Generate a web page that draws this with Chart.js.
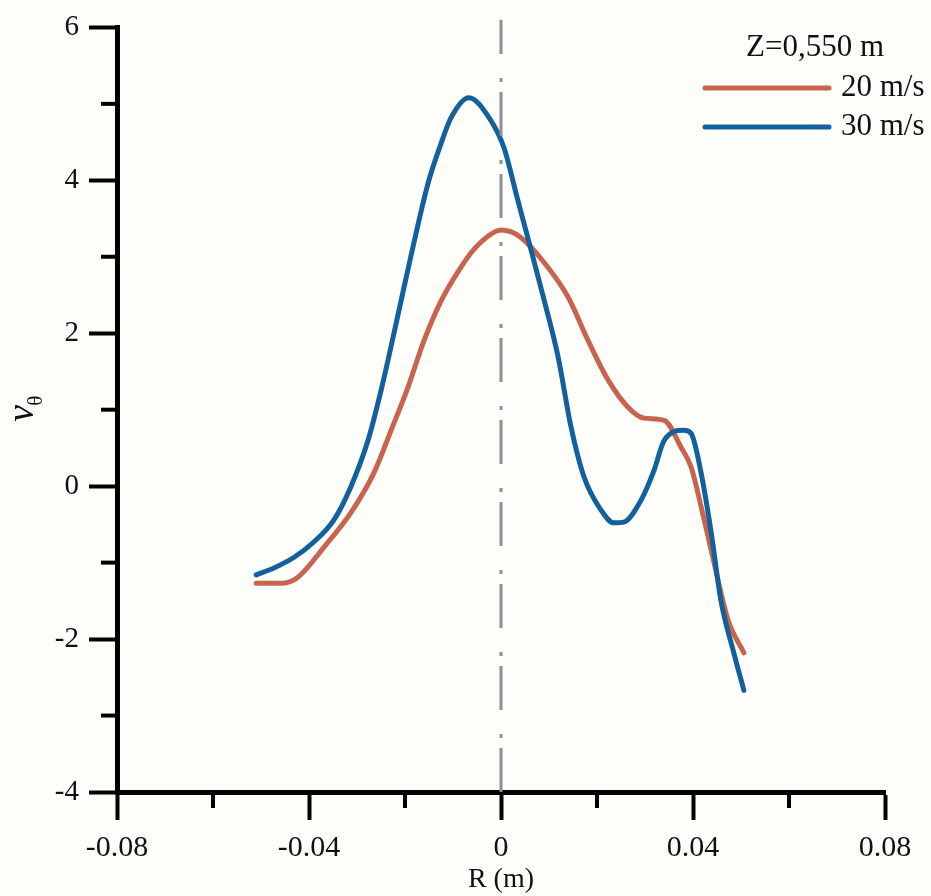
<!DOCTYPE html>
<html>
<head>
<meta charset="utf-8">
<script src="https://cdn.jsdelivr.net/npm/chart.js@4/dist/chart.umd.min.js"></script>
<style>
  html, body { margin: 0; padding: 0; background: #fdfdf9; }
  #wrap { width: 931px; height: 896px; }
</style>
</head>
<body>
<div id="wrap"><canvas id="c" width="931" height="896"></canvas></div>
<script>
// Radial position R (m) and tangential velocity v_theta, Z = 0,550 m
const r20 = [-0.0510, -0.0458, -0.0423, -0.0369, -0.0313, -0.0265, -0.0229, -0.0194, -0.0160, -0.0125,
             -0.0090, -0.0056, -0.0015, 0.0000, 0.0040, 0.0098, 0.0140, 0.0181, 0.0223, 0.0265,
             0.0298, 0.0340, 0.0375, 0.0396, 0.0417, 0.0438, 0.0473, 0.0506];
const v20 = [-1.27, -1.27, -1.19, -0.80, -0.35, 0.17, 0.73, 1.29, 1.91, 2.42,
             2.80, 3.10, 3.32, 3.35, 3.26, 2.86, 2.47, 1.91, 1.39, 1.03,
             0.89, 0.86, 0.51, 0.25, -0.27, -0.84, -1.75, -2.18];

const r30 = [-0.0510, -0.0473, -0.0431, -0.0390, -0.0348, -0.0313, -0.0277, -0.0250, -0.0223, -0.0188,
             -0.0152, -0.0125, -0.0104, -0.0067, -0.0025, 0.0006, 0.0035, 0.0063, 0.0090, 0.0119,
             0.0146, 0.0173, 0.0208, 0.0235, 0.0256, 0.0292, 0.0319, 0.0340, 0.0381, 0.0396,
             0.0417, 0.0438, 0.0458, 0.0485, 0.0506];
const v30 = [-1.16, -1.07, -0.93, -0.73, -0.44, -0.01, 0.60, 1.25, 2.00, 3.00,
             3.96, 4.48, 4.82, 5.08, 4.82, 4.43, 3.74, 3.08, 2.43, 1.69,
             0.77, 0.12, -0.31, -0.48, -0.47, -0.18, 0.21, 0.60, 0.73, 0.69,
             0.17, -0.61, -1.49, -2.18, -2.67];

// Axis line at R = 0
const axisR = [0, 0];
const axisV = [-4, 6.1];

const seriesNames = ['20 m/s', '30 m/s'];
const legendTitle = 'Z=0,550 m';
const xTitle = 'R (m)';

const RED = '#c8634e';
const BLUE = '#12609c';
const SERIF = '"Liberation Serif", "Times New Roman", serif';

const pts = (xs, ys) => xs.map((x, i) => ({ x: x, y: ys[i] }));

const isMajorX = v => Math.round(v * 100) % 4 === 0;
const isMajorY = v => Math.round(v) % 2 === 0;

const paperPlugin = {
  id: 'paper',
  beforeDraw(chart) {
    const ctx = chart.ctx;
    ctx.save();
    ctx.fillStyle = '#fdfdf9';
    ctx.fillRect(0, 0, chart.width, chart.height);
    ctx.restore();
  }
};

// short ticks at the odd steps of both axes
const minorTicks = {
  id: 'minorTicks',
  afterDraw(chart) {
    const ctx = chart.ctx;
    const xs = chart.scales.x, ys = chart.scales.y;
    const area = chart.chartArea;
    ctx.save();
    ctx.strokeStyle = '#000';
    ctx.lineWidth = 4;
    ctx.lineCap = 'butt';
    xs.ticks.forEach(t => {
      if (!isMajorX(t.value)) {
        const px = xs.getPixelForValue(t.value);
        ctx.beginPath();
        ctx.moveTo(px, area.bottom);
        ctx.lineTo(px, area.bottom + 16);
        ctx.stroke();
      }
    });
    ys.ticks.forEach(t => {
      if (!isMajorY(t.value)) {
        const py = ys.getPixelForValue(t.value);
        ctx.beginPath();
        ctx.moveTo(area.left, py);
        ctx.lineTo(area.left - 16, py);
        ctx.stroke();
      }
    });
    ctx.restore();
  }
};

// y-axis title: italic v with theta subscript, rotated
const yTitle = {
  id: 'yTitle',
  afterDraw(chart) {
    const ctx = chart.ctx;
    const mid = (chart.chartArea.top + chart.chartArea.bottom) / 2;
    ctx.save();
    ctx.translate(33, mid + 12);
    ctx.rotate(-Math.PI / 2);
    ctx.fillStyle = '#111';
    ctx.textBaseline = 'alphabetic';
    ctx.textAlign = 'left';
    ctx.font = 'italic 38px ' + SERIF;
    ctx.fillText('v', 0, 0);
    const w = ctx.measureText('v').width;
    ctx.font = '21px ' + SERIF;
    ctx.fillText('θ', w - 1, 9);
    ctx.restore();
  }
};

// legend drawn inside the plot, top right
const seriesKey = {
  id: 'seriesKey',
  afterDraw(chart) {
    const ctx = chart.ctx;
    ctx.save();
    ctx.fillStyle = '#111';
    ctx.font = '31px ' + SERIF;
    ctx.textAlign = 'center';
    ctx.textBaseline = 'middle';
    ctx.fillText(legendTitle, 815, 48);
    const rows = [
      { ds: chart.data.datasets[2], y: 88 },
      { ds: chart.data.datasets[1], y: 127 }
    ];
    rows.forEach(row => {
      ctx.strokeStyle = row.ds.borderColor;
      ctx.lineWidth = 5;
      ctx.lineCap = 'round';
      ctx.beginPath();
      ctx.moveTo(705, row.y);
      ctx.lineTo(829, row.y);
      ctx.stroke();
      ctx.textAlign = 'left';
      ctx.fillText(row.ds.label, 841, row.y);
    });
    ctx.restore();
  }
};

new Chart(document.getElementById('c'), {
  type: 'line',
  data: {
    datasets: [
      {
        label: 'R = 0',
        data: pts(axisR, axisV),
        borderColor: '#8c9095',
        borderWidth: 3,
        borderDash: [44, 10, 4, 24],
        pointRadius: 0,
        clip: false,
        tension: 0
      },
      {
        label: seriesNames[1],
        data: pts(r30, v30),
        borderColor: BLUE,
        backgroundColor: BLUE,
        borderWidth: 5,
        pointRadius: 0,
        cubicInterpolationMode: 'monotone',
        borderJoinStyle: 'round',
        borderCapStyle: 'round'
      },
      {
        label: seriesNames[0],
        data: pts(r20, v20),
        borderColor: RED,
        backgroundColor: RED,
        borderWidth: 5,
        pointRadius: 0,
        cubicInterpolationMode: 'monotone',
        borderJoinStyle: 'round',
        borderCapStyle: 'round'
      }
    ]
  },
  options: {
    responsive: false,
    animation: false,
    events: [],
    layout: { padding: { top: 27, right: 46, left: 0, bottom: 0 } },
    plugins: {
      legend: { display: false },
      tooltip: { enabled: false }
    },
    scales: {
      x: {
        type: 'linear',
        min: -0.08,
        max: 0.08,
        afterFit: s => { s.height = 104; },
        border: { display: true, color: '#000', width: 5 },
        grid: {
          drawOnChartArea: false,
          drawTicks: true,
          tickLength: 28,
          tickColor: '#000',
          tickWidth: c => (c.tick && isMajorX(c.tick.value)) ? 4 : 0
        },
        ticks: {
          stepSize: 0.02,
          autoSkip: false,
          maxRotation: 0,
          padding: 10,
          color: '#111',
          font: { family: SERIF, size: 30 },
          callback: v => isMajorX(v) ? (Math.abs(v) < 1e-9 ? '0' : v.toFixed(2)) : ''
        },
        title: {
          display: true,
          text: xTitle,
          color: '#111',
          font: { family: SERIF, size: 28 },
          padding: { top: 0, bottom: 0 }
        }
      },
      y: {
        type: 'linear',
        min: -4,
        max: 6,
        afterFit: s => { s.width = 117; },
        border: { display: true, color: '#000', width: 5 },
        grid: {
          drawOnChartArea: false,
          drawTicks: true,
          tickLength: 28,
          tickColor: '#000',
          tickWidth: c => (c.tick && isMajorY(c.tick.value)) ? 4 : 0
        },
        ticks: {
          stepSize: 1,
          autoSkip: false,
          padding: 10,
          color: '#111',
          font: { family: SERIF, size: 29 },
          callback: v => isMajorY(v) ? String(v) : ''
        }
      }
    }
  },
  plugins: [paperPlugin, minorTicks, yTitle, seriesKey]
});
</script>
</body>
</html>
